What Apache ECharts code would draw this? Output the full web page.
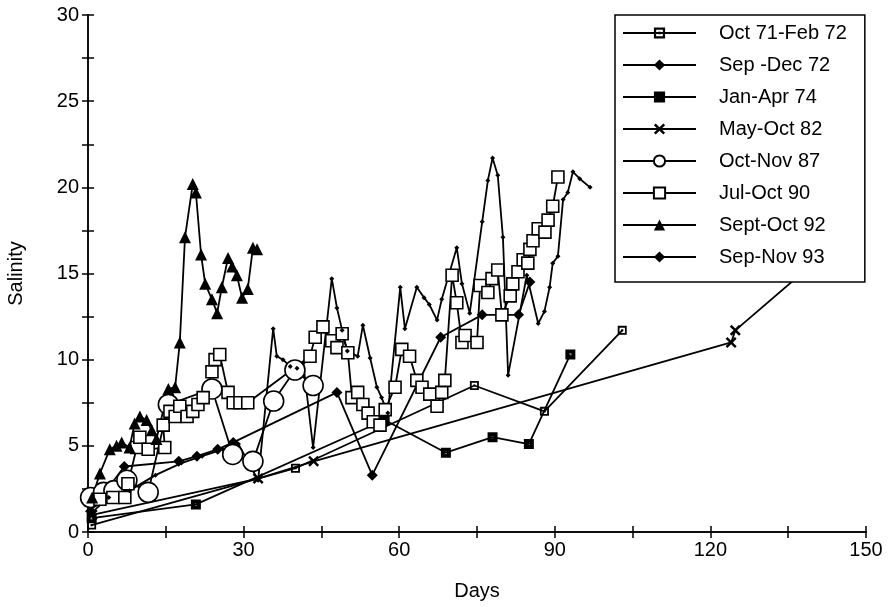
<!DOCTYPE html>
<html>
<head>
    <meta charset="utf-8" />
    <title>Salinity</title>
    <script src="https://cdn.jsdelivr.net/npm/echarts@6/dist/echarts.min.js"></script>
    <style>
        body { margin: 0; background: #fff; }
        #main { width: 893px; height: 607px; }
    </style>
</head>
<body>
    <div id="main"></div>
    <script type="text/javascript">
        // series names, in legend order
        var names = ['Oct 71-Feb 72', 'Sep -Dec 72', 'Jan-Apr 74', 'May-Oct 82',
                     'Oct-Nov 87', 'Jul-Oct 90', 'Sept-Oct 92', 'Sep-Nov 93'];

        // [days, salinity]
        var oct71 = [[0.7, 0.4], [40, 3.7], [74.5, 8.5], [88, 7.0], [103, 11.7]];
        var sep72 = [[0.5, 1.2], [7, 3.8], [17.5, 4.1], [21, 4.4], [25, 4.8], [28, 5.2],
                     [48, 8.1], [54.8, 3.3], [68, 11.3], [76, 12.6], [83, 12.6], [85.2, 14.5]];
        var jan74 = [[0.7, 0.8], [20.8, 1.6], [57.2, 6.5], [69, 4.6], [78, 5.5], [85, 5.1], [93, 10.3]];
        var may82 = [[0.8, 1.0], [32.8, 3.1], [43.5, 4.1], [124, 11.0], [124.8, 11.7], [148, 17.7]];
        var oct87 = [[0.5, 2.0], [3, 2.3], [5, 2.4], [7.5, 3.0], [11.6, 2.3], [15.5, 7.4],
                     [23.9, 8.3], [27.9, 4.5], [31.8, 4.1], [35.8, 7.6], [39.9, 9.4], [43.4, 8.5]];
        var jul90 = [[2.3, 1.9], [4.8, 2.0], [7.1, 2.0], [7.7, 2.8], [9.4, 4.9], [10, 5.5],
                     [11.6, 4.8], [14.8, 4.9], [14.5, 6.2], [15.8, 7.0], [16.8, 6.7], [17.7, 7.3],
                     [19.1, 6.7], [20.2, 7.0], [21.2, 7.4], [22.2, 7.8], [23.9, 9.3], [24.5, 10.0],
                     [25.4, 10.3], [27, 8.1], [28, 7.5], [29.3, 7.5], [30.8, 7.5], [42.8, 10.2],
                     [43.8, 11.3], [45.3, 11.9], [47, 11.1], [48, 10.7], [49, 11.5], [50.1, 10.4],
                     [50.9, 7.8], [52, 8.1], [53, 7.4], [54, 6.9], [55, 6.4], [56.3, 6.2],
                     [57.3, 7.1], [59.2, 8.4], [60.5, 10.6], [62, 10.2], [63.4, 8.8], [64.4, 8.4],
                     [65.9, 8.0], [67.3, 7.3], [68.2, 8.1], [68.8, 8.8], [70.2, 14.9], [71.1, 13.3],
                     [72.1, 11.0], [72.7, 11.4], [75, 11.0], [75.6, 14.3], [77.1, 13.9], [77.9, 14.7],
                     [79, 15.2], [79.8, 12.6], [81.4, 13.7], [81.9, 14.4], [82.9, 15.1], [83.9, 15.8],
                     [84.8, 15.6], [85.2, 16.4], [85.8, 16.9], [86.8, 17.6], [88.1, 17.4], [88.7, 18.1],
                     [89.6, 18.9], [90.6, 20.6]];
        var sep92 = [[0.8, 2.0], [2.3, 3.4], [4.2, 4.8], [5.5, 5.0], [6.5, 5.2], [8, 4.9],
                     [9, 6.3], [10, 6.7], [11.3, 6.5], [12.3, 5.9], [13.2, 5.4], [15.5, 8.3],
                     [16.8, 8.4], [17.7, 11.0], [18.7, 17.1], [20.2, 20.2], [20.8, 19.7], [21.8, 16.1],
                     [22.6, 14.4], [23.9, 13.5], [24.9, 12.7], [25.8, 14.2], [27.0, 15.9], [27.8, 15.4],
                     [28.7, 14.9], [29.7, 13.6], [30.8, 14.1], [31.8, 16.5], [32.6, 16.4]];
        var sep93 = [[1, 1.2], [4, 2.0], [8, 2.4], [13, 3.3], [18, 4.0], [22, 4.4], [26, 4.8],
                     [29, 5.1], [32.8, 3.0], [35.7, 11.8], [36.4, 10.2], [37.6, 10.0], [39, 9.6],
                     [40.3, 9.5], [41.5, 9.8], [43.4, 4.9], [47, 14.7], [48, 13.0], [49, 11.7],
                     [50, 10.5], [52, 10.2], [53, 12.0], [54.4, 10.1], [55.7, 8.4], [56.6, 7.8],
                     [57.8, 6.9], [60.2, 14.2], [61.1, 11.8], [63.4, 14.2], [64.8, 13.6], [65.8, 13.2],
                     [67.3, 12.3], [68.2, 13.5], [71.1, 16.5], [72.1, 14.4], [73.6, 12.7], [76, 18.0],
                     [77.1, 20.4], [78, 21.7], [79, 20.7], [80, 17.1], [81, 9.1], [84.6, 14.9],
                     [86.8, 12.1], [88, 12.8], [89, 14.2], [89.6, 15.6], [90.6, 16.0], [91.6, 19.3],
                     [92.5, 19.7], [93.5, 20.9], [94.8, 20.5], [96.8, 20.0]];

        var allData = [oct71, sep72, jan74, may82, oct87, jul90, sep92, sep93];

        // marker shapes
        var dotSquare = 'path://M0,0L10,0L10,10L0,10Z M2,2L2,8L8,8L8,2Z M3.8,3.8L6.2,3.8L6.2,6.2L3.8,6.2Z';
        var holeSquare = 'path://M0,0L10,0L10,10L0,10Z M4,4L4,6L6,6L6,4Z';
        var cross = 'path://M0,1.6L1.6,0L5,3.4L8.4,0L10,1.6L6.6,5L10,8.4L8.4,10L5,6.6L1.6,10L0,8.4L3.4,5Z';
        var markers = [
            { symbol: dotSquare, size: 9, fill: '#000' },
            { symbol: 'diamond', size: 11, fill: '#000' },
            { symbol: holeSquare, size: 10, fill: '#000' },
            { symbol: cross, size: 11, fill: '#000' },
            { symbol: 'circle', size: 20, fill: '#fff' },
            { symbol: 'rect', size: 12, fill: '#fff' },
            { symbol: 'triangle', size: 12, fill: '#000' },
            { symbol: 'diamond', size: 5, fill: '#000' }
        ];

        var myChart = echarts.init(document.getElementById('main'));

        var font = 'Liberation Sans, Arial, sans-serif';
        var series = names.map(function (name, i) {
            var m = markers[i];
            return {
                name: name,
                type: 'line',
                data: allData[i],
                symbol: m.symbol,
                symbolSize: m.size,
                showAllSymbol: true,
                clip: false,
                lineStyle: { color: '#000', width: 1.8 },
                itemStyle: {
                    color: m.fill,
                    borderColor: '#000',
                    borderWidth: m.fill === '#fff' ? 1.6 : 0
                },
                emphasis: { disabled: true }
            };
        });

        var tickStyle = { color: '#000', width: 1.5 };
        var option = {
            animation: false,
            backgroundColor: '#fff',
            textStyle: { fontFamily: font, color: '#000' },
            grid: { left: 88, right: 27, top: 15, bottom: 75, outerBoundsMode: 'none' },
            legend: {
                orient: 'vertical',
                left: 615,
                top: 15,
                z: 10,
                data: names,
                backgroundColor: '#fff',
                borderColor: '#000',
                borderWidth: 1.5,
                padding: [8, 18, 15, 7],
                itemWidth: 73,
                itemHeight: 14,
                itemGap: 12,
                textStyle: { fontSize: 20, color: '#000', fontFamily: font, padding: [0, 0, 0, 18] }
            },
            xAxis: [{
                type: 'value',
                min: 0, max: 150, interval: 30,
                name: 'Days',
                nameLocation: 'middle',
                nameGap: 49,
                nameTextStyle: { fontSize: 20, color: '#000' },
                axisLine: { lineStyle: tickStyle },
                axisTick: { length: 6, lineStyle: tickStyle },
                minorTick: { show: true, splitNumber: 2, length: 6, lineStyle: tickStyle },
                axisLabel: { fontSize: 20, color: '#000', margin: 8 },
                splitLine: { show: false }
            }, {
                type: 'value',
                position: 'top',
                min: 0, max: 150, interval: 15,
                axisLine: { lineStyle: tickStyle },
                axisTick: { length: 6, lineStyle: tickStyle },
                axisLabel: { show: false },
                splitLine: { show: false }
            }],
            yAxis: [{
                type: 'value',
                min: 0, max: 30, interval: 5,
                name: 'Salinity',
                nameLocation: 'middle',
                nameGap: 62,
                nameRotate: 90,
                nameTextStyle: { fontSize: 20, color: '#000' },
                axisLine: { show: true, lineStyle: tickStyle },
                axisTick: { show: true, length: 6, lineStyle: tickStyle },
                minorTick: { show: true, splitNumber: 2, length: 6, lineStyle: tickStyle },
                axisLabel: { fontSize: 20, color: '#000', margin: 9 },
                splitLine: { show: false }
            }, {
                type: 'value',
                position: 'right',
                min: 0, max: 30, interval: 2.5,
                axisLine: { show: true, lineStyle: tickStyle },
                axisTick: { show: true, length: 6, lineStyle: tickStyle },
                axisLabel: { show: false },
                splitLine: { show: false }
            }],
            series: series
        };

        myChart.setOption(option);
    </script>
</body>
</html>
